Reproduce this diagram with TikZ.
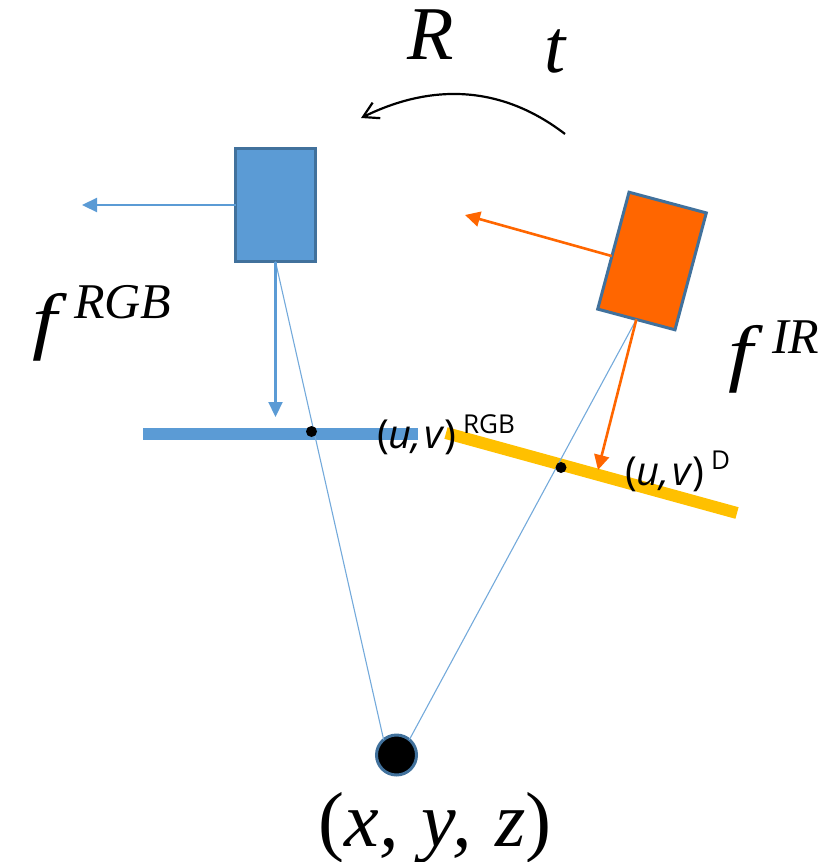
\documentclass[tikz,border=0pt]{standalone}
\usepackage{fontspec}
\newfontfamily\labelfont{Open Sans}
\newfontfamily\mathserif{Liberation Serif}
\usetikzlibrary{arrows.meta}
\definecolor{bluefill}{HTML}{5B9BD5}
\definecolor{blueedge}{HTML}{41719C}
\definecolor{orangefill}{HTML}{FF6600}
\definecolor{yellowbar}{HTML}{FFC000}
\tikzset{
  px/.style={x=1pt,y=-1pt},
  cam/.style={draw=blueedge,line width=3pt,inner sep=0pt,outer sep=0pt},
  ray/.style={draw=bluefill!85,line width=1.1pt},
  bluearrow/.style={draw=bluefill,line width=2.2pt,-{Triangle[length=15pt,width=14pt]}},
  orangearrow/.style={draw=orangefill,line width=2.6pt,-{Triangle[length=15pt,width=15pt]}},
  hit/.style={circle,fill=black,inner sep=0pt,minimum size=11pt},
  mathlabel/.style={inner sep=0pt,outer sep=0pt,text=black,font=\mathserif\itshape},
  uvlabel/.style={inner sep=0pt,outer sep=0pt,anchor=base west,text=black,font=\labelfont\fontsize{40}{46}\selectfont},
  suplabel/.style={inner sep=0pt,outer sep=0pt,anchor=base west,text=black,font=\labelfont\fontsize{26}{30}\selectfont},
}
\begin{document}
\begin{tikzpicture}[px]
\useasboundingbox (0,0) rectangle (826,862);
% image planes
\coordinate (bl) at (143,433.5);
\coordinate (br) at (418,433.5);
\coordinate (yl) at (446,433);
\coordinate (yr) at (737,513);
\draw[yellowbar,line width=12pt] (yl) -- (yr);
\draw[bluefill,line width=12pt] (bl) -- (br);
% world point
\node[circle,fill=black,draw=blueedge,line width=3pt,minimum size=40pt,inner sep=0pt,outer sep=0pt] (p) at (396.5,755) {};
% cameras
\node[cam,fill=bluefill,minimum width=80pt,minimum height=113pt] (rgb) at (275.5,205) {};
\node[cam,fill=orangefill,minimum width=80pt,minimum height=121pt,rotate=-15] (ir) at (652,261) {};
% rays
\draw[ray] (rgb.south) -- (p.130);
\draw[ray] (ir.south) -- (p.50);
% principal axes
\coordinate (bf) at (82,205);
\coordinate (bd) at (275.5,417);
\coordinate (of) at (465,215);
\coordinate (od) at (598,470);
\draw[bluearrow] (rgb.west) -- (bf);
\draw[bluearrow] (rgb.south) -- (bd);
\draw[orangearrow] (ir.188) -- (of);
\draw[orangearrow] (ir.south) -- (od);
% hit points
\node[hit] (h1) at (311.5,431.5) {};
\node[hit] (h2) at (561,467.5) {};
% rotation arrow
\coordinate (as) at (565,134);
\coordinate (ae) at (361,118);
\draw[black,line width=2.2pt,-{Straight Barb[length=15pt,width=24pt,angle'=60]}] (as) .. controls (500,84) and (430,84) .. (ae);
% labels
\node[mathlabel,anchor=base] (lR) at (431,59) {\fontsize{76}{80}\selectfont R};
\node[mathlabel,anchor=base] (lt) at (555,72) {\fontsize{76}{80}\selectfont t};
\node[mathlabel,anchor=base,xscale=1.2] (lf1) at (45,345) {\fontsize{74}{80}\selectfont f};
\node[mathlabel,anchor=base west] (s3) at (74,318) {\fontsize{50}{60}\selectfont RGB};
\node[mathlabel,anchor=base,xscale=1.2] (lf2) at (741,377) {\fontsize{74}{80}\selectfont f};
\node[mathlabel,anchor=base west] (s4) at (772,353) {\fontsize{50}{60}\selectfont IR};
\node[uvlabel] (uv1) at (377,448) {(\textit{u,\hspace{.06em}v})};
\node[suplabel] (s1) at (463,433) {RGB};
\node[uvlabel] (uv2) at (625,485) {(\textit{u,\hspace{.06em}v})};
\node[suplabel] (s2) at (711,469) {D};
\node[mathlabel,anchor=base] (lp) at (435,846) {\fontsize{78}{84}\selectfont {\upshape(}x,\hspace{.3em}y,\hspace{.3em}z{\upshape)}};
\end{tikzpicture}
\end{document}
